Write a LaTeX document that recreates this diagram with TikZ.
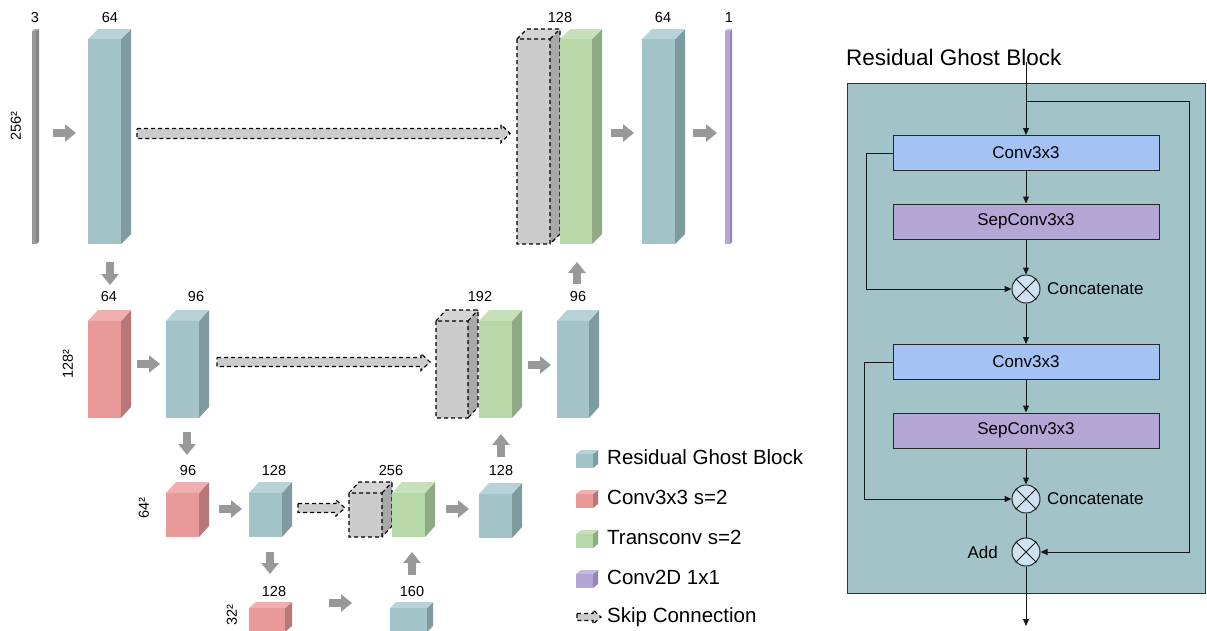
\documentclass[tikz,border=0pt]{standalone}
\usepackage{fontspec}
\setmainfont{Liberation Sans}
\usetikzlibrary{arrows.meta,calc}
\definecolor{tealF}{HTML}{A2C4C9}
\definecolor{tealT}{HTML}{B7D3D7}
\definecolor{tealS}{HTML}{7F9B9F}
\definecolor{redF}{HTML}{EA9999}
\definecolor{redT}{HTML}{EFAFAE}
\definecolor{redS}{HTML}{B87878}
\definecolor{greenF}{HTML}{B6D7A8}
\definecolor{greenT}{HTML}{C6E0BA}
\definecolor{greenS}{HTML}{8FAA84}
\definecolor{purF}{HTML}{B4A7D6}
\definecolor{purT}{HTML}{C4B9E0}
\definecolor{purS}{HTML}{9486B5}
\definecolor{grayF}{HTML}{CCCCCC}
\definecolor{grayT}{HTML}{D4D4D4}
\definecolor{grayS}{HTML}{A8A8A8}
\definecolor{inF}{HTML}{999999}
\definecolor{inT}{HTML}{AAAAAA}
\definecolor{inS}{HTML}{858585}
\definecolor{arrowgray}{HTML}{999999}
\definecolor{convblue}{HTML}{A4C2F4}
\definecolor{sepviolet}{HTML}{B4A7D6}
\definecolor{circfill}{HTML}{CFE2F3}
\definecolor{panelbg}{HTML}{A2C4C9}
% name, x, y(front top), w, h, dx, dy, colour, outline style
\newcommand\cube[9]{%
 \fill[#8S] (#2+#4,#3) -- ++(#6,-#7) -- ++(0,#5) -- ++(-#6,#7) -- cycle;
 \fill[#8T] (#2,#3) -- ++(#6,-#7) -- ++(#4,0) -- ++(-#6,#7) -- cycle;
 \node[fill=#8F, minimum width=#4pt, minimum height=#5pt, inner sep=0pt, outer sep=0pt, anchor=north west] (#1) at (#2,#3) {};
 \draw[#9] (#2,#3) -- ++(#6,-#7) -- ++(#4,0) -- ++(0,#5) -- ++(-#6,#7)
   (#2+#4,#3) -- ++(#6,-#7) (#1.north west) rectangle (#1.south east);
}
% skip arrow: name, x1, x2, y, shaft half, head half, head length
\newcommand\skiparrow[7]{%
 \coordinate (#1s) at (#2,#4); \coordinate (#1e) at (#3,#4);
 \draw[skipstyle] ($(#1s)+(0,-#5)$) -- ($(#1e)+(-#7,-#5)$) -- ($(#1e)+(-#7,-#6)$) -- (#1e)
   -- ($(#1e)+(-#7,#6)$) -- ($(#1e)+(-#7,#5)$) -- ($(#1s)+(0,#5)$) -- cycle;
}
\newcommand\garr[5]{\coordinate (#1a) at (#2,#3); \coordinate (#1b) at (#4,#5); \draw[garrow] (#1a) -- (#1b);}
\tikzset{
 dedge/.style={draw=black, dash pattern=on 4pt off 3pt, line width=1.1pt},
 noedge/.style={draw=none},
 skipstyle/.style={fill=grayF, draw=black, dash pattern=on 4pt off 3pt, line width=1.1pt},
 garrow/.style={draw=arrowgray, line width=8pt, -{Triangle[width=17pt,length=11pt]}},
 num/.style={font=\fontsize{14.5}{16}\selectfont, inner sep=0pt},
 legtext/.style={font=\fontsize{20.5}{23}\selectfont, anchor=west, inner sep=0pt},
 blk/.style={draw=black!85, line width=1pt, minimum width=266pt, minimum height=35pt, inner sep=0pt, font=\fontsize{17}{19}\selectfont},
 op/.style={circle, draw=black!85, line width=1pt, fill=circfill, minimum size=28pt, inner sep=0pt},
 oplabel/.style={font=\fontsize{17}{19}\selectfont, inner sep=0pt},
 flow/.style={draw=black!90, line width=1pt, -{Triangle[length=7pt,width=6pt]}},
 plain/.style={draw=black!90, line width=1pt},
}
\begin{document}
\begin{tikzpicture}[x=1pt,y=-1pt]
\useasboundingbox (0,0) rectangle (1207,630);
\fill[white] (0,0) rectangle (1207,630);

% ---------- level 1 ----------
\cube{inp}{32}{31}{4}{213}{3}{2}{in}{noedge}
\cube{e1}{88}{39}{33}{205}{10}{10}{teal}{noedge}
\cube{g1}{517}{39}{33}{205}{10}{10}{gray}{dedge}
\cube{t1}{560}{39}{32}{205}{10}{10}{green}{noedge}
\cube{d1}{642}{39}{33}{205}{10}{10}{teal}{noedge}
\cube{outp}{725}{31}{5}{213}{2}{2}{pur}{noedge}
\node[num] (l3) at (35,18) {3};
\node[num] (l64a) at (110,18) {64};
\node[num] (l128a) at (560,18) {128};
\node[num] (l64b) at (663,18) {64};
\node[num] (l1) at (729,18) {1};
\node[num, rotate=90] (r256) at (16,126) {256²};
\garr{a1}{53}{133}{76}{133}
\skiparrow{s1}{137}{510}{133.5}{5}{9}{9}
\garr{a2}{611}{133}{634}{133}
\garr{a3}{693}{133}{717}{133}
\garr{v1}{110}{262}{110}{285}

% ---------- level 2 ----------
\cube{c2}{88}{321}{33}{97}{10}{11}{red}{noedge}
\cube{e2}{166}{321}{33}{97}{10}{11}{teal}{noedge}
\cube{g2}{436}{321}{32}{97}{10}{11}{gray}{dedge}
\cube{t2}{479}{321}{33}{97}{10}{11}{green}{noedge}
\cube{d2}{557}{321}{32}{97}{10}{11}{teal}{noedge}
\node[num] (l64c) at (109,297) {64};
\node[num] (l96a) at (196,297) {96};
\node[num] (l192) at (480,297) {192};
\node[num] (l96b) at (578,297) {96};
\node[num, rotate=90] (r128) at (68,364) {128²};
\garr{b1}{137}{364}{160}{364}
\skiparrow{s2}{217}{430}{362}{4.5}{8.5}{9}
\garr{b2}{528}{365}{551}{365}
\garr{u1}{577}{284}{577}{262}
\garr{v2}{187}{432}{187}{455}

% ---------- level 3 ----------
\cube{c3}{166}{493}{33}{44}{10}{11}{red}{noedge}
\cube{e3}{249}{493}{33}{44}{10}{11}{teal}{noedge}
\cube{g3}{349}{493}{33}{44}{10}{11}{gray}{dedge}
\cube{t3}{392}{493}{33}{44}{10}{11}{green}{noedge}
\cube{d3}{479}{494}{33}{44}{10}{11}{teal}{noedge}
\node[num] (l96c) at (188,470) {96};
\node[num] (l128b) at (274,470) {128};
\node[num] (l256) at (391,470) {256};
\node[num] (l128c) at (501,470) {128};
\node[num, rotate=90] (r64) at (144,508) {64²};
\garr{c1a}{219}{509}{242}{509}
\skiparrow{s3}{298}{345}{508}{4.5}{8}{9}
\garr{c2a}{446}{509}{469}{509}
\garr{u2}{501}{457}{501}{434}
\garr{v3}{270}{552}{270}{574}

% ---------- level 4 ----------
\cube{c4}{249}{608}{36}{24}{7}{6}{red}{noedge}
\cube{e4}{390}{608}{37}{24}{6}{6}{teal}{noedge}
\node[num] (l128d) at (274,591) {128};
\node[num] (l160) at (412,591) {160};
\node[num, rotate=90] (r32) at (232,615) {32²};
\garr{d1a}{329}{603}{352}{603}
\garr{u3}{412}{575}{412}{552}

% ---------- legend ----------
\cube{k1}{576}{454}{17}{14}{5}{4}{teal}{noedge}
\cube{k2}{576}{494}{17}{14}{5}{4}{red}{noedge}
\cube{k3}{576}{534}{17}{14}{5}{4}{green}{noedge}
\cube{k4}{576}{574}{17}{14}{5}{4}{pur}{noedge}
\skiparrow{k5}{577}{601}{617}{3.5}{7}{8}
\node[legtext] (t1l) at (607,457) {Residual Ghost Block};
\node[legtext] (t2l) at (607,497) {Conv3x3 s=2};
\node[legtext] (t3l) at (607,537) {Transconv s=2};
\node[legtext] (t4l) at (607,577) {Conv2D 1x1};
\node[legtext] (t5l) at (607,617) {Skip Connection};

% ---------- residual ghost block ----------
\node[font=\fontsize{22.5}{25}\selectfont, anchor=base west, inner sep=0pt] (title) at (846,65.5) {Residual Ghost Block};
\filldraw[fill=panelbg, draw=black!80, line width=1pt] (847,83) rectangle (1205.5,593);
\node[blk, fill=convblue] (conv1) at (1026,153) {Conv3x3};
\node[blk, fill=sepviolet] (sep1) at (1026,221.5) {SepConv3x3};
\node[op] (cat1) at (1026,289) {};
\node[oplabel, anchor=west] (cat1l) at (1047,289) {Concatenate};
\node[blk, fill=convblue] (conv2) at (1026,362) {Conv3x3};
\node[blk, fill=sepviolet] (sep2) at (1026,430.5) {SepConv3x3};
\node[op] (cat2) at (1026,499) {};
\node[oplabel, anchor=west] (cat2l) at (1047,499) {Concatenate};
\node[op] (add) at (1026,552) {};
\node[oplabel, anchor=east] (addl) at (998,552) {Add};
\foreach \n in {cat1,cat2,add}{
  \draw[plain] (\n.north west) -- (\n.south east) (\n.north east) -- (\n.south west);
}
\coordinate (in) at (1026,62);
\coordinate (rb) at (1026,101);
\coordinate (rc) at (1189,101);
\coordinate (lb1) at (866,153);
\coordinate (lb2) at (864,362);
\coordinate (out) at (1026,626);
\draw[flow] (in) -- (conv1.north);
\draw[plain] (rb) -- (rc);
\draw[flow] (rc) |- (add.east);
\draw[flow] (conv1.south) -- (sep1.north);
\draw[flow] (sep1.south) -- (cat1.north);
\draw[flow] (conv1.west) -- (lb1) |- (cat1.west);
\draw[flow] (cat1.south) -- (conv2.north);
\draw[flow] (conv2.south) -- (sep2.north);
\draw[flow] (sep2.south) -- (cat2.north);
\draw[flow] (conv2.west) -- (lb2) |- (cat2.west);
\draw[plain] (cat2.south) -- (add.north);
\draw[flow] (add.south) -- (out);
\end{tikzpicture}
\end{document}
